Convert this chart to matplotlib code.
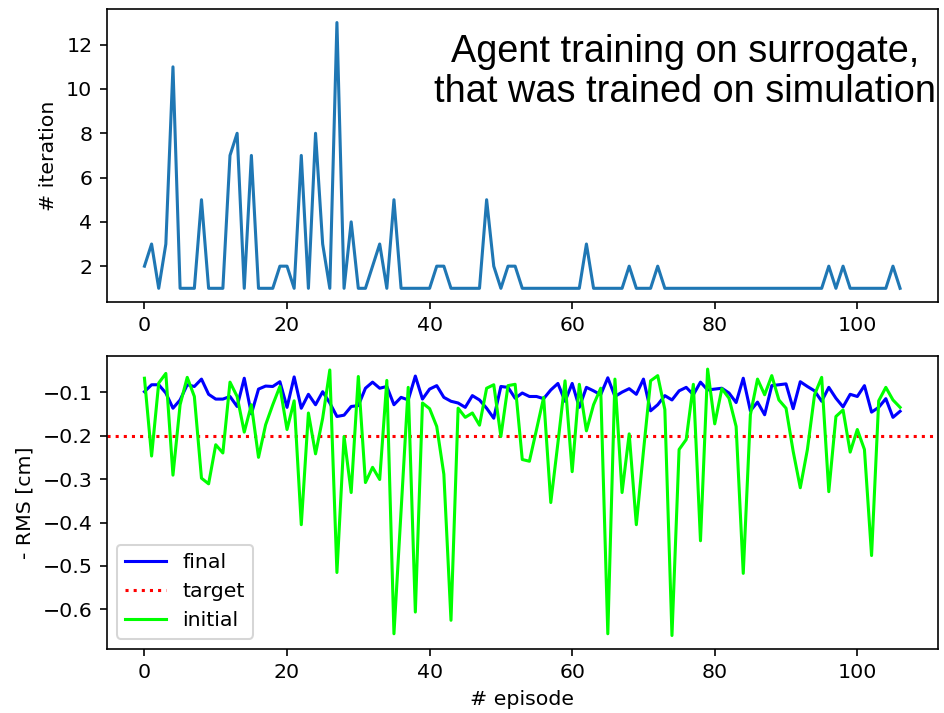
import matplotlib.pyplot as plt

# iterations needed per episode
iterations = [2, 3, 1, 3, 11, 1, 1, 1, 5, 1, 1, 1, 7, 8, 1, 7, 1, 1, 1, 2,
              2, 1, 7, 1, 8, 3, 1, 13, 1, 4, 1, 1, 2, 3, 1, 5, 1, 1, 1, 1,
              1, 2, 2, 1, 1, 1, 1, 1, 5, 2, 1, 2, 2, 1, 1, 1, 1, 1, 1, 1,
              1, 1, 3, 1, 1, 1, 1, 1, 2, 1, 1, 1, 2, 1, 1, 1, 1, 1, 1, 1,
              1, 1, 1, 1, 1, 1, 1, 1, 1, 1, 1, 1, 1, 1, 1, 1, 2, 1, 2, 1,
              1, 1, 1, 1, 1, 2, 1]

# negative RMS after the agent finished
rms_final = [-0.099, -0.083, -0.083, -0.102, -0.137, -0.118, -0.083, -0.087, -0.070, -0.105,
             -0.116, -0.116, -0.110, -0.133, -0.068, -0.150, -0.093, -0.086, -0.087, -0.076,
             -0.135, -0.065, -0.137, -0.105, -0.129, -0.099, -0.125, -0.156, -0.153, -0.133,
             -0.131, -0.091, -0.077, -0.091, -0.087, -0.129, -0.112, -0.118, -0.063, -0.116,
             -0.093, -0.085, -0.112, -0.121, -0.125, -0.135, -0.108, -0.118, -0.137, -0.160,
             -0.087, -0.089, -0.114, -0.102, -0.110, -0.110, -0.115, -0.095, -0.080, -0.121,
             -0.080, -0.135, -0.089, -0.097, -0.106, -0.067, -0.110, -0.100, -0.092, -0.105,
             -0.070, -0.143, -0.129, -0.108, -0.118, -0.097, -0.089, -0.106, -0.077, -0.095,
             -0.093, -0.091, -0.102, -0.124, -0.068, -0.143, -0.123, -0.152, -0.085, -0.083,
             -0.081, -0.138, -0.076, -0.087, -0.097, -0.121, -0.089, -0.114, -0.134, -0.105,
             -0.110, -0.085, -0.146, -0.135, -0.115, -0.158, -0.144]

# negative RMS at the start of each episode
rms_initial = [-0.068, -0.247, -0.079, -0.057, -0.291, -0.129, -0.066, -0.110, -0.298, -0.311,
               -0.221, -0.240, -0.077, -0.110, -0.192, -0.129, -0.250, -0.175, -0.129, -0.087,
               -0.186, -0.120, -0.405, -0.148, -0.242, -0.160, -0.049, -0.515, -0.202, -0.331,
               -0.064, -0.308, -0.273, -0.301, -0.073, -0.656, -0.373, -0.089, -0.606, -0.125,
               -0.138, -0.179, -0.289, -0.625, -0.137, -0.158, -0.148, -0.176, -0.091, -0.083,
               -0.202, -0.085, -0.082, -0.255, -0.259, -0.186, -0.112, -0.354, -0.217, -0.074,
               -0.283, -0.082, -0.189, -0.129, -0.091, -0.656, -0.070, -0.331, -0.196, -0.405,
               -0.236, -0.074, -0.062, -0.140, -0.660, -0.232, -0.209, -0.082, -0.442, -0.047,
               -0.173, -0.092, -0.114, -0.179, -0.517, -0.152, -0.070, -0.106, -0.062, -0.118,
               -0.137, -0.236, -0.320, -0.232, -0.106, -0.066, -0.329, -0.156, -0.141, -0.238,
               -0.186, -0.232, -0.476, -0.120, -0.089, -0.118, -0.135]

target = -0.2
episodes = list(range(len(iterations)))

dpi = 147.5
fig = plt.figure(figsize=(944 / dpi, 713 / dpi), dpi=dpi)
ax1 = fig.add_axes([0.113, 0.577, 0.8805, 0.410])
ax2 = fig.add_axes([0.113, 0.090, 0.8805, 0.411])

ax1.plot(episodes, iterations)
ax1.set_ylabel("# iteration")
ax1.set_yticks([2, 4, 6, 8, 10, 12])

ax2.plot(episodes, rms_final, color='b', label='final')
ax2.axhline(target, color='r', linestyle=':', label='target')
ax2.plot(episodes, rms_initial, color='lime', label='initial')
ax2.set_xlabel("# episode")
ax2.set_ylabel("- RMS [cm]")
ax2.legend(loc='lower left')

fig.text(0.7256, 0.899, "Agent training on surrogate,\nthat was trained on simulation",
         ha='center', va='center', multialignment='center', linespacing=1.15,
         fontsize=18.5, family=['Liberation Sans', 'DejaVu Sans'])

fig.savefig("out.png", dpi=dpi)
